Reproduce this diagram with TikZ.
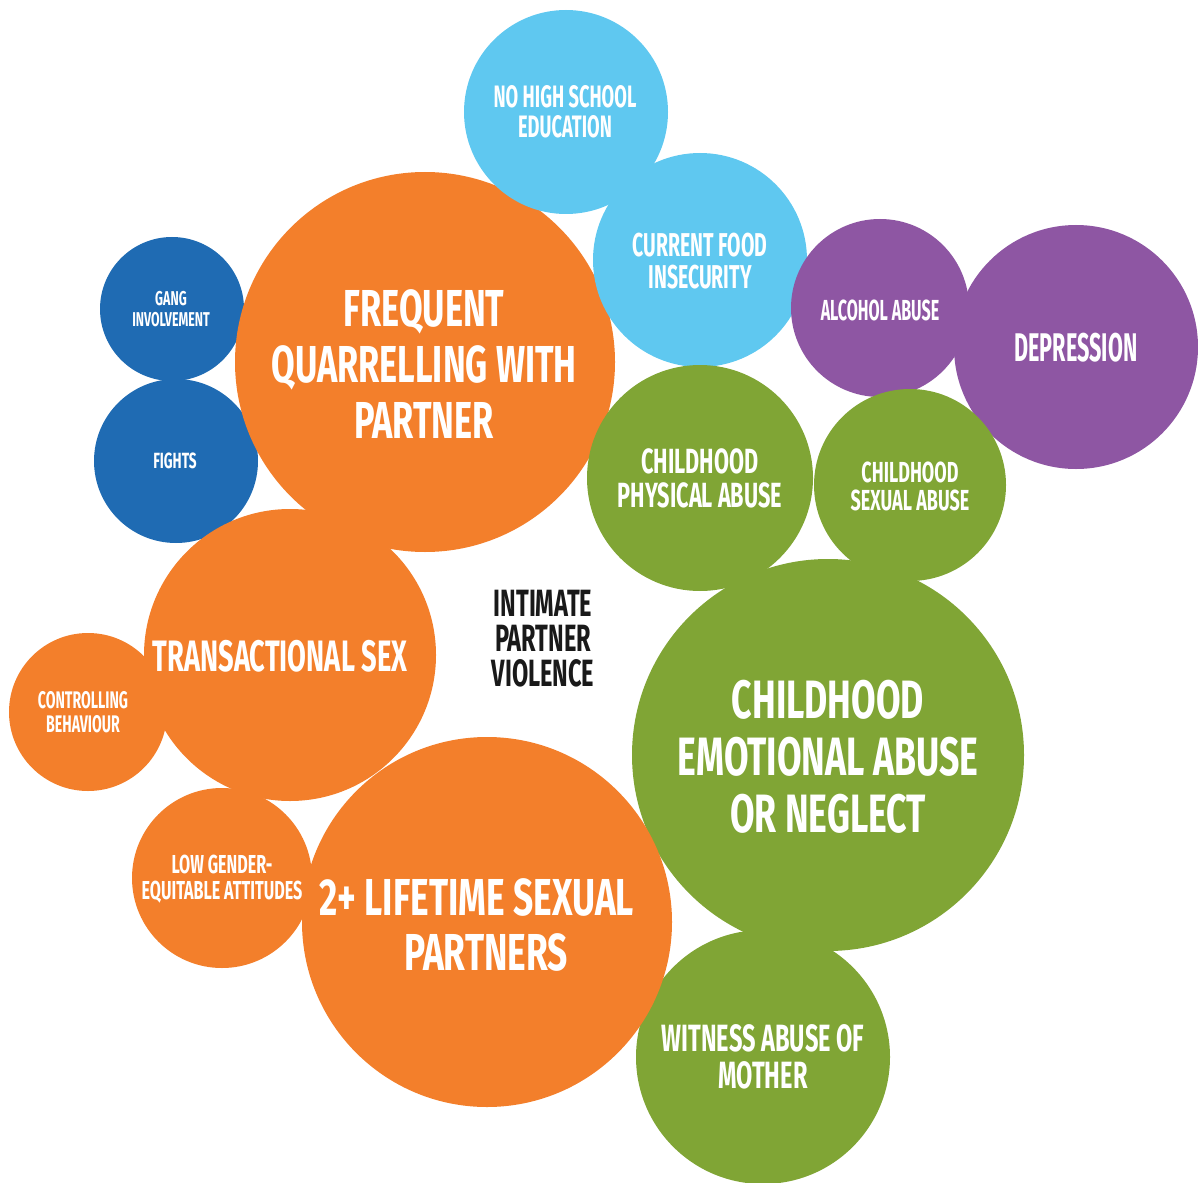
\documentclass[tikz,border=0pt]{standalone}
\usepackage{fontspec}
\newfontfamily\cf[FakeStretch=0.62]{Fira Sans}
\newfontfamily\cfA[FakeStretch=0.66]{Fira Sans}
\newfontfamily\cfB[FakeStretch=0.68]{Fira Sans}
\newfontfamily\cfC[FakeStretch=0.54]{Fira Sans}
\newfontfamily\cfD[FakeStretch=0.555]{Fira Sans}
\newfontfamily\cfE[FakeStretch=0.59]{Fira Sans}
\definecolor{cOrange}{HTML}{F37F2B}
\definecolor{cLight}{HTML}{5FC8F0}
\definecolor{cDark}{HTML}{1F6BB3}
\definecolor{cPurple}{HTML}{8E56A3}
\definecolor{cGreen}{HTML}{80A535}
\tikzset{
  bub/.style={circle, inner sep=0pt, outer sep=0pt, draw=none},
  lbl/.style={text=white, align=center, inner sep=0pt, font=\cf\bfseries},
}
\newcommand{\bubble}[5]{% name, x, y, r, colour
  \node[bub, fill=#5, minimum size=#4*2pt] (#1) at (#2,#3) {};}
\begin{document}
\begin{tikzpicture}[x=1pt,y=-1pt]
\useasboundingbox (0,0) rectangle (1198,1182);
% blues
\bubble{gang}{172}{309}{72}{cDark}
\bubble{fights}{176}{461}{82}{cDark}
% quarrelling
\bubble{quarrel}{425}{362}{190}{cOrange}
% light blues
\bubble{school}{566}{112}{102}{cLight}
\bubble{food}{700}{260}{107}{cLight}
% purple
\bubble{alcohol}{880}{308}{89}{cPurple}
\bubble{depression}{1076}{347}{122}{cPurple}
% greens
\bubble{physical}{700}{478}{113}{cGreen}
\bubble{sexual}{910}{485}{96}{cGreen}
\bubble{emotional}{828}{755}{196}{cGreen}
\bubble{witness}{763}{1057}{127}{cGreen}
% oranges
\bubble{transact}{290}{655}{146}{cOrange}
\bubble{control}{88}{712}{79}{cOrange}
\bubble{gender}{222}{878}{90}{cOrange}
\bubble{partners}{487}{922}{185}{cOrange}
% labels
\node[lbl, font=\cf\bfseries\fontsize{20}{21}\selectfont] (tgang) at (171,309) {GANG\\INVOLVEMENT};
\node[lbl, font=\cf\bfseries\fontsize{22}{23}\selectfont] (tfights) at (175,461) {FIGHTS};
\node[lbl, font=\cfA\bfseries\fontsize{52}{56}\selectfont] (tquarrel) at (424,364) {FREQUENT\\QUARRELLING WITH\\PARTNER};
\node[lbl, font=\cfE\bfseries\fontsize{31}{30}\selectfont] (tschool) at (565,112) {NO HIGH SCHOOL\\EDUCATION};
\node[lbl, font=\cfE\bfseries\fontsize{33}{32}\selectfont] (tfood) at (700,261) {CURRENT FOOD\\INSECURITY};
\node[lbl, font=\cfD\bfseries\fontsize{29}{29}\selectfont] (talcohol) at (880,310) {ALCOHOL ABUSE};
\node[lbl, font=\cfC\bfseries\fontsize{40}{40}\selectfont] (tdepression) at (1076,348) {DEPRESSION};
\node[lbl, font=\cf\bfseries\fontsize{35}{34}\selectfont] (tphysical) at (700,478) {CHILDHOOD\\PHYSICAL ABUSE};
\node[lbl, font=\cf\bfseries\fontsize{29}{28}\selectfont] (tsexual) at (910,486) {CHILDHOOD\\SEXUAL ABUSE};
\node[lbl, font=\cfA\bfseries\fontsize{54}{57}\selectfont] (temotional) at (828,757) {CHILDHOOD\\EMOTIONAL ABUSE\\OR NEGLECT};
\node[lbl, font=\cf\bfseries\fontsize{44}{44}\selectfont] (ttransact) at (280,656) {TRANSACTIONAL SEX};
\node[lbl, font=\cfE\bfseries\fontsize{24}{24}\selectfont] (tcontrol) at (83,712) {CONTROLLING\\BEHAVIOUR};
\node[lbl, font=\cf\bfseries\fontsize{26}{26}\selectfont] (tgender) at (222,879) {LOW GENDER-\\EQUITABLE ATTITUDES};
\node[lbl, font=\cfB\bfseries\fontsize{52}{55}\selectfont] (tpartners) at (477,925) {2+ LIFETIME SEXUAL\\\hspace*{18pt}PARTNERS};
\node[lbl, font=\cf\bfseries\fontsize{38}{37}\selectfont] (twitness) at (763,1057) {WITNESS ABUSE OF\\MOTHER};
\node[lbl, text=black!90, font=\cf\bfseries\fontsize{38}{35}\selectfont] (tipv) at (543,639) {INTIMATE\\PARTNER\\VIOLENCE};
\end{tikzpicture}
\end{document}
